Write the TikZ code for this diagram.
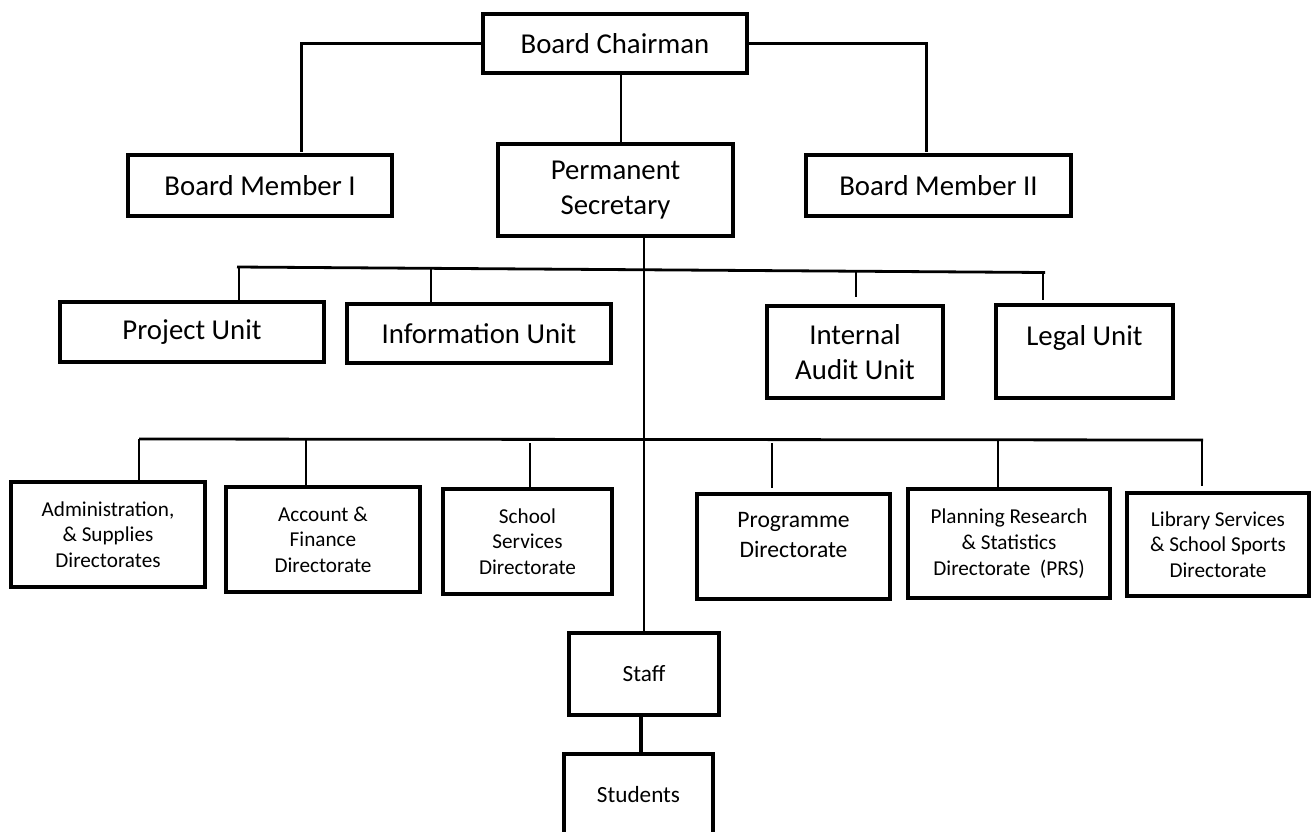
\documentclass[tikz,border=0pt]{standalone}
\usepackage{fontspec}
\setmainfont{Carlito}
\usetikzlibrary{calc}
\begin{document}
\begin{tikzpicture}[x=0.5pt,y=-0.5pt,
  box/.style={draw, line width=1.6pt, inner sep=0pt, align=center},
  wh/.style 2 args={minimum width=#1*0.5pt, minimum height=#2*0.5pt},
  big/.style={font=\fontsize{14.4}{17.5}\selectfont},
  small/.style={font=\fontsize{10.6}{12.8}\selectfont},
  mid/.style={font=\fontsize{11.8}{15}\selectfont},
  tiny/.style={font=\fontsize{11.6}{14}\selectfont},
  conn/.style={line width=1.5pt},
  fine/.style={line width=1pt},
  bus/.style={line width=1.4pt},
  heavy/.style={line width=2pt}]
\useasboundingbox (0,0) rectangle (1312,831);
\clip (0,0) rectangle (1312,831);

% boxes
\node[box,big,wh={264}{59}]  (chair) at (615,43.5) {Board Chairman};
\node[box,big,wh={264}{61}]  (bm1)   at (260,185.5) {Board Member I};
\node[box,big,wh={235}{92}]  (ps)    at (615.5,190) {Permanent\\Secretary};
\node[box,big,wh={265}{61}]  (bm2)   at (938.5,185.5) {Board Member II};

\node[box,big,wh={264}{60}]  (proj)  at (192,332) {Project Unit};
\node[box,big,wh={264}{59}]  (info)  at (479,333.5) {Information Unit};
\node[box,big,wh={176}{92}]  (ia)    at (855,352) {Internal\\Audit Unit};
\node[box,big,wh={177}{93}]  (legal) at (1084.5,351.5) {\raisebox{7pt}[\height][\depth]{Legal Unit}};

\node[box,small,wh={194}{105}] (admin)  at (108,534.5) {Administration,\\\& Supplies\\Directorates};
\node[box,small,wh={194}{105}] (acc)    at (323,539.5) {Account \&\\Finance\\Directorate};
\node[box,small,wh={169}{105}] (school) at (527.5,541.5) {School\\Services\\Directorate};
\node[box,mid,wh={193}{105}]   (prog)   at (793.5,546.5) {\raisebox{5pt}[\height][\depth]{\begin{tabular}{@{}c@{}}Programme\\Directorate\end{tabular}}};
\node[box,small,wh={202}{109}] (prs)    at (1009,543.5) {Planning Research\\\& Statistics\\Directorate\ \ (PRS)};
\node[box,small,wh={182}{103}] (lib)    at (1218,544.5) {Library Services\\\& School Sports\\Directorate};

\node[box,tiny,wh={150}{82}] (staff) at (644,674) {Staff};
\node[box,tiny,wh={149}{81}] (stud)  at (638.5,794.5) {Students};

% board connectors
\coordinate (k1) at (301,152);
\coordinate (k2) at (926,152);
\draw[conn] (chair.west) -| (k1);
\draw[conn] (chair.east) -| (k2);
\coordinate (k3) at (621,0);
\draw[fine] (chair.south -| k3) -- (ps.north -| k3);

% trunk
\coordinate (tr) at (644,0);
\draw[fine] (ps.south -| tr) -- (staff.north);

% units bus
\coordinate (ubL) at (237,267);
\coordinate (ubR) at (1045,272.5);
\draw[bus] (ubL) -- (ubR);
\coordinate (u1) at (239,267.1);
\coordinate (u2) at (431,268.3);
\coordinate (u3) at (856,271);
\coordinate (u4) at (1043,272.5);
\draw[fine] (u1) -- (u1 |- proj.north);
\draw[fine] (u2) -- (u2 |- info.north);
\draw[fine] (u3) -- ($(u3 |- ia.north)+(0,-7)$);
\draw[fine] (u4) -- ($(u4 |- legal.north)+(0,-3)$);

% directorates bus
\coordinate (dbL) at (139,439);
\coordinate (dbR) at (1203,440);
\draw[bus] (dbL) -- (dbR);
\coordinate (d1) at (139,439);
\coordinate (d2) at (306,440);
\coordinate (d3) at (530,443);
\coordinate (d4) at (772,443);
\coordinate (d5) at (998,440);
\coordinate (d6) at (1202,440);
\draw[fine] (d1) -- (d1 |- admin.north);
\draw[fine] (d2) -- (d2 |- acc.north);
\draw[fine] (d3) -- (d3 |- school.north);
\draw[fine] (d4) -- ($(d4 |- prog.north)+(0,-4)$);
\draw[fine] (d5) -- (d5 |- prs.north);
\draw[fine] (d6) -- ($(d6 |- lib.north)+(0,-5)$);

% staff to students
\coordinate (ss) at (641,0);
\draw[heavy] (staff.south -| ss) -- (stud.north -| ss);
\end{tikzpicture}
\end{document}
